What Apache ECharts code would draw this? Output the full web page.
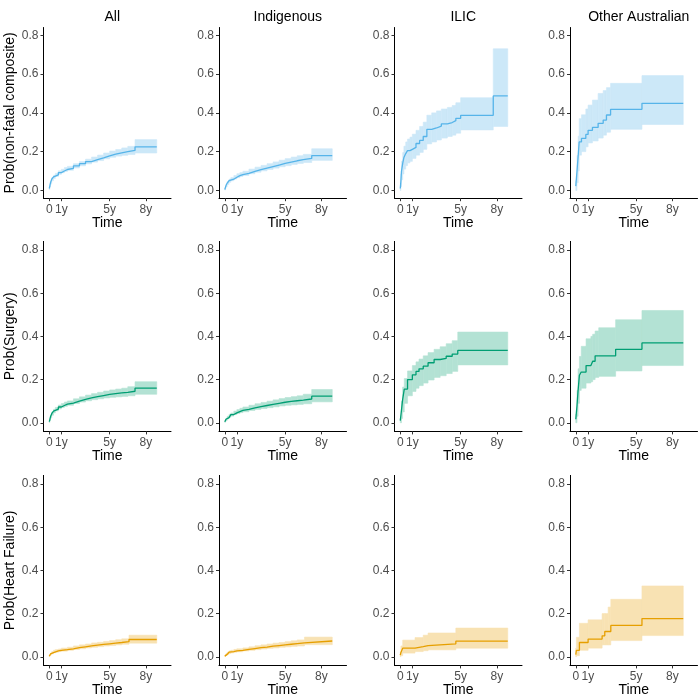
<!DOCTYPE html>
<html><head><meta charset="utf-8">
<script src="https://cdn.jsdelivr.net/npm/echarts@6/dist/echarts.min.js"></script>
<style>html,body{margin:0;padding:0;background:#fff}#c{width:700px;height:700px}</style>
</head><body><div id="c"></div>
<script>
const columnTitles = ['All', 'Indigenous', 'ILIC', 'Other Australian'];
const rowTitles = ['Prob(non-fatal composite)', 'Prob(Surgery)', 'Prob(Heart Failure)'];
const xTickValues = [0, 1, 5, 8];
const xTickLabels = ['0', '1y', '5y', '8y'];
const yTickValues = [0, 0.2, 0.4, 0.6, 0.8];
const lineColors = ['#56B4E9', '#009E73', '#E69F00'];
const bandColors = ['#CCE8F8', '#B3E2D4', '#F8E2B3'];

// Row 1: non-fatal composite
const r1c1_t   = [0,0.05,0.1,0.2,0.35,0.5,0.75,1,1.25,1.5,2,2.5,3,3.5,4,4.5,5,5.5,6,6.5,7.1,8.9];
const r1c1_est = [0.010,0.025,0.040,0.058,0.070,0.080,0.092,0.100,0.108,0.114,0.127,0.138,0.149,0.159,0.168,0.178,0.187,0.194,0.200,0.206,0.225,0.225];
const r1c1_lo  = [0.005,0.019,0.033,0.050,0.062,0.072,0.083,0.091,0.098,0.104,0.116,0.127,0.137,0.146,0.154,0.163,0.171,0.177,0.181,0.185,0.193,0.193];
const r1c1_hi  = [0.015,0.031,0.047,0.066,0.078,0.088,0.101,0.109,0.118,0.124,0.138,0.149,0.161,0.172,0.182,0.193,0.203,0.211,0.219,0.227,0.262,0.262];

const r1c2_t   = [0,0.05,0.1,0.2,0.35,0.5,0.75,1,1.25,1.5,2,2.5,3,3.5,4,4.5,5,5.5,6,6.5,7.2,8.9];
const r1c2_est = [0.005,0.015,0.025,0.038,0.050,0.058,0.068,0.076,0.082,0.088,0.098,0.107,0.115,0.123,0.131,0.139,0.146,0.153,0.159,0.165,0.180,0.180];
const r1c2_lo  = [0.002,0.010,0.019,0.031,0.042,0.050,0.059,0.066,0.072,0.077,0.086,0.094,0.101,0.108,0.115,0.122,0.128,0.134,0.139,0.144,0.155,0.155];
const r1c2_hi  = [0.008,0.020,0.031,0.045,0.058,0.066,0.077,0.086,0.092,0.099,0.110,0.120,0.129,0.138,0.147,0.156,0.164,0.172,0.179,0.186,0.215,0.215];

const r1c3_t   = [0,0.05,0.1,0.2,0.3,0.45,0.6,0.8,1.0,1.3,1.6,1.9,2.2,2.6,3.0,3.4,3.9,4.3,4.6,5.0,7.7,8.9];
const r1c3_est = [0.010,0.050,0.100,0.140,0.170,0.190,0.205,0.212,0.222,0.242,0.258,0.278,0.315,0.322,0.332,0.343,0.350,0.360,0.372,0.387,0.487,0.487];
const r1c3_lo  = [0.000,0.020,0.055,0.085,0.110,0.128,0.142,0.150,0.165,0.182,0.196,0.212,0.240,0.250,0.260,0.270,0.278,0.285,0.295,0.312,0.330,0.330];
const r1c3_hi  = [0.020,0.085,0.150,0.195,0.228,0.250,0.265,0.275,0.290,0.310,0.330,0.352,0.388,0.400,0.410,0.420,0.428,0.438,0.452,0.478,0.730,0.730];

const r1c4_t   = [0,0.1,0.2,0.28,0.47,0.83,1.02,1.38,1.85,2.27,2.54,2.88,5.48,8.9];
const r1c4_est = [0.022,0.100,0.180,0.250,0.268,0.289,0.310,0.325,0.346,0.363,0.389,0.418,0.449,0.449];
const r1c4_lo  = [0.000,0.040,0.100,0.182,0.200,0.225,0.245,0.255,0.270,0.285,0.300,0.315,0.340,0.340];
const r1c4_hi  = [0.050,0.180,0.280,0.370,0.390,0.420,0.440,0.466,0.500,0.515,0.530,0.552,0.592,0.592];

// Row 2: surgery
const r2c1_t   = [0,0.05,0.1,0.2,0.35,0.5,0.75,1,1.25,1.5,2,2.5,3,3.5,4,4.5,5,5.5,6,6.5,7.1,8.9];
const r2c1_est = [0.005,0.016,0.028,0.042,0.054,0.063,0.073,0.080,0.086,0.091,0.100,0.108,0.115,0.121,0.126,0.131,0.135,0.138,0.141,0.146,0.160,0.160];
const r2c1_lo  = [0.002,0.011,0.022,0.035,0.046,0.055,0.064,0.071,0.076,0.081,0.089,0.096,0.102,0.107,0.111,0.115,0.118,0.120,0.122,0.125,0.132,0.132];
const r2c1_hi  = [0.008,0.021,0.034,0.049,0.062,0.071,0.082,0.089,0.096,0.101,0.111,0.120,0.128,0.135,0.141,0.147,0.152,0.156,0.160,0.167,0.190,0.190];

const r2c2_t   = [0,0.05,0.1,0.2,0.35,0.5,0.75,1,1.25,1.5,2,2.5,3,3.5,4,4.5,5,5.5,6,6.5,7.2,8.9];
const r2c2_est = [0.005,0.010,0.016,0.024,0.032,0.038,0.046,0.052,0.057,0.062,0.069,0.075,0.080,0.085,0.090,0.095,0.099,0.102,0.105,0.110,0.123,0.123];
const r2c2_lo  = [0.002,0.006,0.011,0.018,0.025,0.031,0.038,0.043,0.047,0.051,0.057,0.062,0.066,0.070,0.074,0.078,0.081,0.083,0.085,0.088,0.097,0.097];
const r2c2_hi  = [0.008,0.014,0.021,0.030,0.039,0.045,0.054,0.061,0.067,0.073,0.081,0.088,0.094,0.100,0.106,0.112,0.117,0.121,0.125,0.132,0.154,0.154];

const r2c3_t   = [0,0.1,0.19,0.33,0.6,1.0,1.3,1.55,1.9,2.3,2.8,3.3,3.8,4.3,4.76,8.9];
const r2c3_est = [0.010,0.060,0.106,0.156,0.200,0.222,0.238,0.250,0.262,0.278,0.293,0.298,0.308,0.318,0.335,0.335];
const r2c3_lo  = [0.000,0.020,0.050,0.090,0.125,0.145,0.160,0.172,0.184,0.198,0.210,0.218,0.228,0.238,0.268,0.268];
const r2c3_hi  = [0.020,0.100,0.165,0.205,0.240,0.265,0.282,0.295,0.310,0.325,0.340,0.352,0.366,0.380,0.420,0.420];

const r2c4_t   = [0,0.1,0.19,0.3,0.45,0.85,1.25,1.4,1.6,1.9,3.3,5.48,8.9];
const r2c4_est = [0.016,0.080,0.150,0.220,0.235,0.265,0.270,0.285,0.310,0.310,0.340,0.370,0.370];
const r2c4_lo  = [0.000,0.030,0.090,0.150,0.160,0.184,0.190,0.200,0.210,0.215,0.240,0.265,0.265];
const r2c4_hi  = [0.040,0.150,0.250,0.307,0.354,0.389,0.400,0.410,0.425,0.440,0.477,0.520,0.520];

// Row 3: heart failure
const r3c1_t   = [0,0.05,0.1,0.2,0.35,0.5,0.75,1,1.5,2,2.5,3,3.5,4,4.5,5,5.5,6,6.6,8.9];
const r3c1_est = [0.003,0.008,0.013,0.019,0.024,0.027,0.030,0.033,0.037,0.042,0.046,0.050,0.054,0.057,0.060,0.063,0.066,0.070,0.080,0.080];
const r3c1_lo  = [0.001,0.005,0.009,0.014,0.018,0.021,0.024,0.026,0.030,0.034,0.037,0.041,0.044,0.047,0.050,0.052,0.055,0.058,0.063,0.063];
const r3c1_hi  = [0.005,0.011,0.017,0.024,0.030,0.033,0.036,0.040,0.044,0.050,0.055,0.059,0.064,0.067,0.071,0.075,0.079,0.083,0.100,0.100];

const r3c2_t   = [0,0.05,0.1,0.2,0.35,0.5,0.75,1,1.5,2,2.5,3,3.5,4,4.5,5,5.5,6,6.6,8.9];
const r3c2_est = [0.003,0.007,0.011,0.016,0.021,0.024,0.027,0.030,0.034,0.038,0.042,0.045,0.049,0.052,0.055,0.058,0.061,0.064,0.073,0.073];
const r3c2_lo  = [0.001,0.004,0.007,0.011,0.015,0.018,0.021,0.023,0.027,0.030,0.033,0.036,0.039,0.041,0.044,0.046,0.048,0.050,0.056,0.056];
const r3c2_hi  = [0.005,0.010,0.015,0.021,0.027,0.030,0.034,0.037,0.041,0.046,0.051,0.055,0.059,0.063,0.066,0.070,0.074,0.078,0.091,0.091];

const r3c3_t   = [0,0.05,0.2,1.22,1.9,2.3,4.6,8.9];
const r3c3_est = [0.008,0.020,0.040,0.047,0.052,0.060,0.072,0.072];
const r3c3_lo  = [0.000,0.005,0.017,0.024,0.028,0.032,0.040,0.040];
const r3c3_hi  = [0.020,0.050,0.077,0.089,0.100,0.110,0.133,0.133];

const r3c4_t   = [0,0.05,0.3,1.02,2.18,2.4,2.68,2.9,5.48,8.9];
const r3c4_est = [0.010,0.030,0.066,0.082,0.097,0.117,0.117,0.145,0.177,0.177];
const r3c4_lo  = [0.000,0.005,0.030,0.040,0.055,0.055,0.055,0.075,0.098,0.098];
const r3c4_hi  = [0.040,0.090,0.155,0.171,0.200,0.200,0.230,0.266,0.328,0.328];

const panels = [
  [[r1c1_t,r1c1_est,r1c1_lo,r1c1_hi],[r1c2_t,r1c2_est,r1c2_lo,r1c2_hi],[r1c3_t,r1c3_est,r1c3_lo,r1c3_hi],[r1c4_t,r1c4_est,r1c4_lo,r1c4_hi]],
  [[r2c1_t,r2c1_est,r2c1_lo,r2c1_hi],[r2c2_t,r2c2_est,r2c2_lo,r2c2_hi],[r2c3_t,r2c3_est,r2c3_lo,r2c3_hi],[r2c4_t,r2c4_est,r2c4_lo,r2c4_hi]],
  [[r3c1_t,r3c1_est,r3c1_lo,r3c1_hi],[r3c2_t,r3c2_est,r3c2_lo,r3c2_hi],[r3c3_t,r3c3_est,r3c3_lo,r3c3_hi],[r3c4_t,r3c4_est,r3c4_lo,r3c4_hi]]
];

// layout
const colLeft = [43.5, 219, 394.5, 570];
const colWidth = 127.5;
const rowTop = [27.5, 241.4, 475.4];
const rowHeight = [170.7, 190, 190];
const FONT = '"Liberation Sans", Arial, sans-serif';

const grid = [], xAxis = [], yAxis = [], series = [], title = [];
let gi = 0;
for (let r = 0; r < 3; r++) {
  for (let c = 0; c < 4; c++) {
    grid.push({left: colLeft[c], top: rowTop[r], width: colWidth, height: rowHeight[r], containLabel: false});
    xAxis.push({
      gridIndex: gi, type: 'value', min: -0.48, max: 10.08,
      splitLine: {show: false},
      axisLine: {show: true, onZero: false, lineStyle: {color: '#000', width: 1}},
      axisTick: {show: true, customValues: xTickValues, length: 3, lineStyle: {color: '#333', width: 1}},
      axisLabel: {customValues: xTickValues, formatter: v => xTickLabels[xTickValues.indexOf(v)], color: '#4D4D4D', fontSize: 12, margin: 5, fontFamily: FONT},
      name: 'Time', nameLocation: 'middle', nameGap: 18,
      nameTextStyle: {fontSize: 14, color: '#000', fontFamily: FONT}
    });
    const ya = {
      gridIndex: gi, type: 'value', min: -0.04, max: 0.84,
      splitLine: {show: false},
      axisLine: {show: true, onZero: false, lineStyle: {color: '#000', width: 1}},
      axisTick: {show: true, customValues: yTickValues, length: 3, lineStyle: {color: '#333', width: 1}},
      axisLabel: {customValues: yTickValues, formatter: v => v.toFixed(1), color: '#4D4D4D', fontSize: 12, margin: 5, fontFamily: FONT}
    };
    if (c === 0) {
      ya.name = rowTitles[r]; ya.nameLocation = 'middle'; ya.nameRotate = 90; ya.nameGap = 26;
      ya.nameTextStyle = {fontSize: 14, color: '#000', fontFamily: FONT};
    }
    yAxis.push(ya);
    const [t, est, lo, hi] = panels[r][c];
    const bandData = [];
    for (let i = 0; i < t.length - 1; i++) bandData.push([t[i], t[i + 1], lo[i], hi[i]]);
    const bc = bandColors[r];
    series.push({
      type: 'custom', xAxisIndex: gi, yAxisIndex: gi, silent: true,
      encode: {x: [0, 1], y: [2, 3]},
      data: bandData,
      renderItem: (params, api) => {
        const a = api.coord([api.value(0), api.value(3)]);
        const b = api.coord([api.value(1), api.value(2)]);
        return {type: 'rect', shape: {x: a[0], y: a[1], width: b[0] - a[0], height: b[1] - a[1]},
          style: {fill: bc, stroke: bc, lineWidth: 0.6}};
      }
    });
    series.push({
      type: 'line', xAxisIndex: gi, yAxisIndex: gi, step: 'end', z: 5,
      data: t.map((x, i) => [x, est[i]]), symbol: 'none', silent: true,
      lineStyle: {color: lineColors[r], width: 1.3}
    });
    gi++;
  }
}
for (let c = 0; c < 4; c++) {
  title.push({text: columnTitles[c], left: colLeft[c] + colWidth / 2, top: 5, textAlign: 'center',
    textStyle: {fontSize: 14, fontWeight: 'normal', color: '#000', fontFamily: FONT}});
}

const chart = echarts.init(document.getElementById('c'), null, {renderer: 'canvas'});
chart.setOption({animation: false, backgroundColor: '#fff', title, grid, xAxis, yAxis, series});
</script>
</body></html>
